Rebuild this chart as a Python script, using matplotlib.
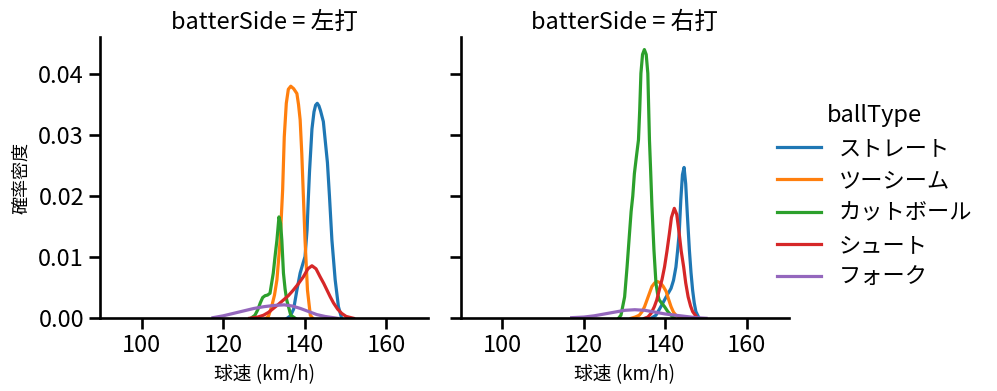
import matplotlib
matplotlib.use("Agg")
import matplotlib.pyplot as plt

# panels / legend categories
sides = ["左打", "右打"]
ball_types = ["ストレート", "ツーシーム", "カットボール", "シュート", "フォーク"]
colors = ["#1f77b4", "#ff7f0e", "#2ca02c", "#d62728", "#9467bd"]

# density curves (x = km/h, y = density)
# batterSide = 左打
l_straight_x = [135.7, 136.5, 137.3, 138.1, 138.9, 139.6, 140.1, 140.6, 140.9, 141.2, 141.8, 142.3, 142.7, 143.1, 143.5, 143.9, 144.6, 145.0, 145.6, 146.1, 146.7, 147.5, 148.3, 149.1]
l_straight_y = [0.0, 0.0004, 0.0015, 0.0046, 0.0074, 0.0090, 0.0101, 0.0145, 0.0195, 0.0240, 0.0310, 0.0338, 0.0349, 0.0352, 0.0348, 0.0340, 0.0322, 0.0295, 0.0255, 0.0200, 0.0128, 0.0063, 0.0019, 0.0]
l_twoseam_x = [130.5, 131.1, 131.9, 132.6, 133.2, 134.0, 134.6, 135.0, 135.5, 136.0, 136.6, 137.3, 138.1, 138.5, 138.9, 139.3, 139.7, 140.1, 140.7, 141.4, 142.0]
l_twoseam_y = [0.0, 0.0003, 0.0019, 0.0038, 0.0063, 0.0128, 0.0210, 0.0297, 0.0352, 0.0375, 0.0380, 0.0376, 0.0368, 0.0350, 0.0325, 0.0270, 0.0199, 0.0128, 0.0046, 0.0005, 0.0]
l_cutter_x = [126.8, 127.8, 128.5, 129.1, 129.7, 130.3, 130.9, 131.5, 132.3, 132.8, 133.2, 133.7, 134.1, 134.4, 134.8, 135.2, 135.6, 136.6, 137.7]
l_cutter_y = [0.0, 0.0005, 0.0014, 0.0025, 0.0034, 0.0037, 0.0038, 0.0041, 0.0074, 0.0105, 0.0128, 0.0166, 0.0155, 0.0128, 0.0074, 0.0048, 0.0030, 0.0005, 0.0]
l_shoot_x = [126.5, 128.5, 129.9, 131.2, 132.3, 133.6, 134.8, 136.0, 137.2, 138.4, 139.7, 140.8, 141.8, 142.8, 143.8, 144.7, 145.5, 146.3, 147.1, 148.1, 149.1, 150.2, 152.0]
l_shoot_y = [0.0, 0.0002, 0.0005, 0.0010, 0.0016, 0.0023, 0.0030, 0.0037, 0.0046, 0.0056, 0.0068, 0.0081, 0.0086, 0.0081, 0.0068, 0.0057, 0.0046, 0.0035, 0.0025, 0.0015, 0.0008, 0.0003, 0.0]
l_fork_x = [117.5, 120.0, 122.5, 125.0, 127.5, 130.0, 132.5, 135.0, 137.0, 139.0, 141.0, 143.0, 145.0, 148.0]
l_fork_y = [0.0001, 0.0004, 0.0008, 0.0012, 0.0016, 0.0019, 0.0021, 0.0022, 0.0020, 0.0016, 0.0011, 0.0006, 0.0003, 0.0]

# batterSide = 右打
r_straight_x = [136.5, 137.7, 138.9, 140.2, 141.4, 142.0, 142.6, 143.0, 143.4, 143.8, 144.2, 144.6, 145.0, 145.4, 145.9, 146.3, 146.7, 147.1, 147.5, 148.3]
r_straight_y = [0.0, 0.0005, 0.0019, 0.0035, 0.0049, 0.0062, 0.0084, 0.0110, 0.0139, 0.0194, 0.0235, 0.0247, 0.0220, 0.0170, 0.0112, 0.0075, 0.0046, 0.0025, 0.0011, 0.0]
r_twoseam_x = [131.6, 132.6, 133.6, 134.3, 134.9, 135.5, 136.1, 136.7, 137.4, 138.1, 138.8, 139.5, 140.2, 140.8, 141.4, 142.0, 142.6, 143.4, 144.3]
r_twoseam_y = [0.0, 0.0002, 0.0005, 0.0011, 0.0019, 0.0030, 0.0041, 0.0052, 0.0058, 0.0060, 0.0058, 0.0052, 0.0044, 0.0031, 0.0019, 0.0010, 0.0005, 0.0002, 0.0]
r_cutter_x = [128.5, 129.1, 130.0, 130.6, 131.2, 131.6, 132.0, 132.4, 132.9, 133.4, 133.7, 134.0, 134.4, 134.85, 135.3, 135.7, 136.1, 136.4, 136.7, 137.2, 137.7, 138.1, 138.5, 139.2, 139.8, 140.6, 141.4, 142.2]
r_cutter_y = [0.0, 0.0005, 0.0035, 0.0084, 0.0139, 0.0175, 0.0200, 0.0237, 0.0265, 0.0292, 0.0340, 0.0401, 0.0432, 0.0440, 0.0432, 0.0401, 0.0292, 0.0240, 0.0185, 0.0112, 0.0057, 0.0040, 0.0030, 0.0024, 0.0019, 0.0011, 0.0005, 0.0]
r_shoot_x = [134.9, 135.7, 136.5, 137.3, 137.9, 138.5, 139.2, 139.8, 140.4, 141.0, 141.5, 142.2, 142.8, 143.4, 143.9, 144.5, 145.0, 145.6, 146.2, 146.7, 147.9]
r_shoot_y = [0.0, 0.0002, 0.0008, 0.0019, 0.0030, 0.0046, 0.0064, 0.0084, 0.0110, 0.0139, 0.0165, 0.0180, 0.0170, 0.0139, 0.0110, 0.0084, 0.0058, 0.0035, 0.0020, 0.0011, 0.0]
r_fork_x = [117.0, 120.0, 122.5, 125.0, 127.5, 130.0, 132.5, 135.0, 137.5, 140.0, 142.5, 145.0, 147.5, 150.0]
r_fork_y = [0.0001, 0.0002, 0.0004, 0.0007, 0.0010, 0.0013, 0.0014, 0.0013, 0.0010, 0.0007, 0.0005, 0.0003, 0.0001, 0.0]

curves = {
    "左打": [(l_straight_x, l_straight_y), (l_twoseam_x, l_twoseam_y), (l_cutter_x, l_cutter_y),
             (l_shoot_x, l_shoot_y), (l_fork_x, l_fork_y)],
    "右打": [(r_straight_x, r_straight_y), (r_twoseam_x, r_twoseam_y), (r_cutter_x, r_cutter_y),
             (r_shoot_x, r_shoot_y), (r_fork_x, r_fork_y)],
}

x_ticks = [100, 120, 140, 160]
y_ticks = [0.00, 0.01, 0.02, 0.03, 0.04]

plt.rcParams['font.family'] = ['Noto Sans CJK JP', 'DejaVu Sans']
plt.rcParams['axes.linewidth'] = 1.9
plt.rcParams['xtick.major.width'] = 1.9
plt.rcParams['ytick.major.width'] = 1.9
plt.rcParams['xtick.major.size'] = 8
plt.rcParams['ytick.major.size'] = 8
plt.rcParams['xtick.labelsize'] = 17
plt.rcParams['ytick.labelsize'] = 17

fig = plt.figure(figsize=(9.97, 3.91), dpi=100)
ax_l = fig.add_axes([0.1003, 0.186, 0.329, 0.720])
ax_r = fig.add_axes([0.4621, 0.186, 0.329, 0.720], sharey=ax_l)

handles = []
for ax, side in zip([ax_l, ax_r], sides):
    for (xs, ys), name, c in zip(curves[side], ball_types, colors):
        line, = ax.plot(xs, ys, color=c, lw=2.3, label=name)
        if side == "左打":
            handles.append(line)
    ax.set_xlim(89.75, 170.3)
    ax.set_ylim(0, 0.0461)
    ax.set_xticks(x_ticks)
    ax.set_yticks(y_ticks)
    ax.spines['top'].set_visible(False)
    ax.spines['right'].set_visible(False)
    ax.set_title(f"batterSide = {side}", fontsize=17)
    ax.set_xlabel("球速 (km/h)", fontsize=13.5, labelpad=5)

ax_l.set_yticklabels([f"{v:.2f}" for v in y_ticks])
ax_l.set_ylabel("確率密度", fontsize=13, labelpad=6)
ax_r.tick_params(axis='y', labelleft=False)

fig.legend(handles=handles, labels=ball_types, title="ballType", loc="center left",
           bbox_to_anchor=(0.759, 0.497), frameon=False, fontsize=16, title_fontsize=17,
           handlelength=2.0, labelspacing=0.42)

fig.savefig("out.png", dpi=100)
